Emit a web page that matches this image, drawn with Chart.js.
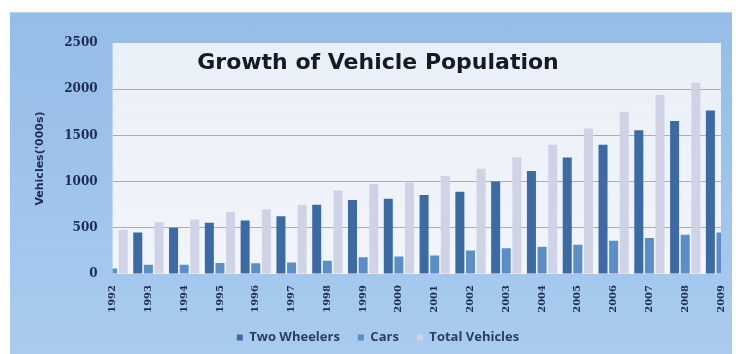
<!DOCTYPE html>
<html>
<head>
<meta charset="utf-8">
<title>Growth of Vehicle Population</title>
<script src="https://cdn.jsdelivr.net/npm/chart.js@4.4.1/dist/chart.umd.min.js"></script>
<style>
  body { margin: 0; background: #fff; }
  .wrap { position: relative; width: 736px; height: 354px; }
  .frame {
    position: absolute; left: 10px; top: 12px; width: 722px; height: 342px;
    background: linear-gradient(#95bde7, #a9cbef);
    border-top: 1px solid #b9d3ef;
  }
  #chart { position: absolute; left: 0; top: 0; }
</style>
</head>
<body>
<div class="wrap">
  <div class="frame"></div>
  <canvas id="chart" width="736" height="354"></canvas>
</div>
<script>
const years = ["1992", "1993", "1994", "1995", "1996", "1997", "1998", "1999", "2000",
  "2001", "2002", "2003", "2004", "2005", "2006", "2007", "2008", "2009"];
const twoWheelers = [420, 450, 500, 555, 580, 625, 750, 800, 815, 855, 890, 1000, 1115, 1260, 1400, 1555, 1655, 1770];
const cars = [60, 100, 100, 118, 115, 125, 143, 180, 190, 200, 255, 280, 295, 316, 360, 390, 425, 450];
const totalVehicles = [480, 560, 590, 670, 700, 750, 905, 975, 990, 1060, 1140, 1260, 1400, 1575, 1755, 1940, 2070, 2220];
const yTicks = [0, 500, 1000, 1500, 2000, 2500];

const navy = "#1d2c52";

// light panel behind the bars
const plotBackground = {
  id: "plotBackground",
  beforeDraw(chart) {
    const { ctx, chartArea: a } = chart;
    const g = ctx.createLinearGradient(0, a.top, 0, a.bottom);
    g.addColorStop(0, "#eaf0f8");
    g.addColorStop(1, "#f2f5fa");
    ctx.save();
    ctx.fillStyle = g;
    ctx.fillRect(a.left, a.top, a.right - a.left, a.bottom - a.top);
    ctx.restore();
  },
};

new Chart(document.getElementById("chart"), {
  type: "bar",
  data: {
    labels: years,
    datasets: [
      { label: "Two Wheelers", data: twoWheelers, backgroundColor: "#3c6aa5" },
      { label: "Cars", data: cars, backgroundColor: "#5b8ec6" },
      { label: "Total Vehicles", data: totalVehicles, backgroundColor: "#cfd3e5" },
    ],
  },
  options: {
    responsive: false,
    animation: false,
    layout: { padding: { left: 34, right: 14, top: 43, bottom: 0 } },
    datasets: {
      bar: { categoryPercentage: 0.89, barPercentage: 0.85, clip: 0 },
    },
    scales: {
      x: {
        offset: false,
        // year labels band between the plot and the legend
        afterFit: (scale) => {
          scale.height = 39;
        },
        grid: { display: false },
        border: { display: false },
        ticks: {
          autoSkip: false,
          minRotation: 90,
          maxRotation: 90,
          padding: 3,
          color: navy,
          font: { family: "DejaVu Serif", size: 10, weight: "bold" },
        },
      },
      y: {
        min: 0,
        max: 2500,
        afterBuildTicks: (scale) => {
          scale.ticks = yTicks.map((v) => ({ value: v }));
        },
        grid: {
          drawTicks: false,
          color: (c) => (c.tick && c.tick.value > 0 && c.tick.value < 2500 ? "#a9adb4" : "transparent"),
        },
        border: { display: false },
        ticks: {
          padding: 15,
          color: navy,
          callback: (v) => String(v),
          font: { family: "DejaVu Serif", size: 12, weight: "bold" },
        },
        title: {
          display: true,
          text: "Vehicles('000s)",
          color: navy,
          padding: { top: 0, bottom: 2 },
          font: { family: "DejaVu Sans", size: 11, weight: "bold" },
        },
      },
    },
    plugins: {
      title: {
        display: true,
        text: "Growth of Vehicle Population",
        color: "#151a26",
        font: { family: "DejaVu Sans", size: 22, weight: "bold" },
        // bottom cancels top + line height, so the title sits inside the plot panel
        padding: { top: 7, bottom: -33.4 },
      },
      legend: {
        position: "bottom",
        labels: {
          boxWidth: 6,
          boxHeight: 6,
          padding: 18,
          color: "#2a3d66",
          font: { family: "Open Sans", size: 13, weight: "bold" },
        },
      },
      tooltip: { enabled: false },
    },
  },
  plugins: [plotBackground],
});
</script>
</body>
</html>
